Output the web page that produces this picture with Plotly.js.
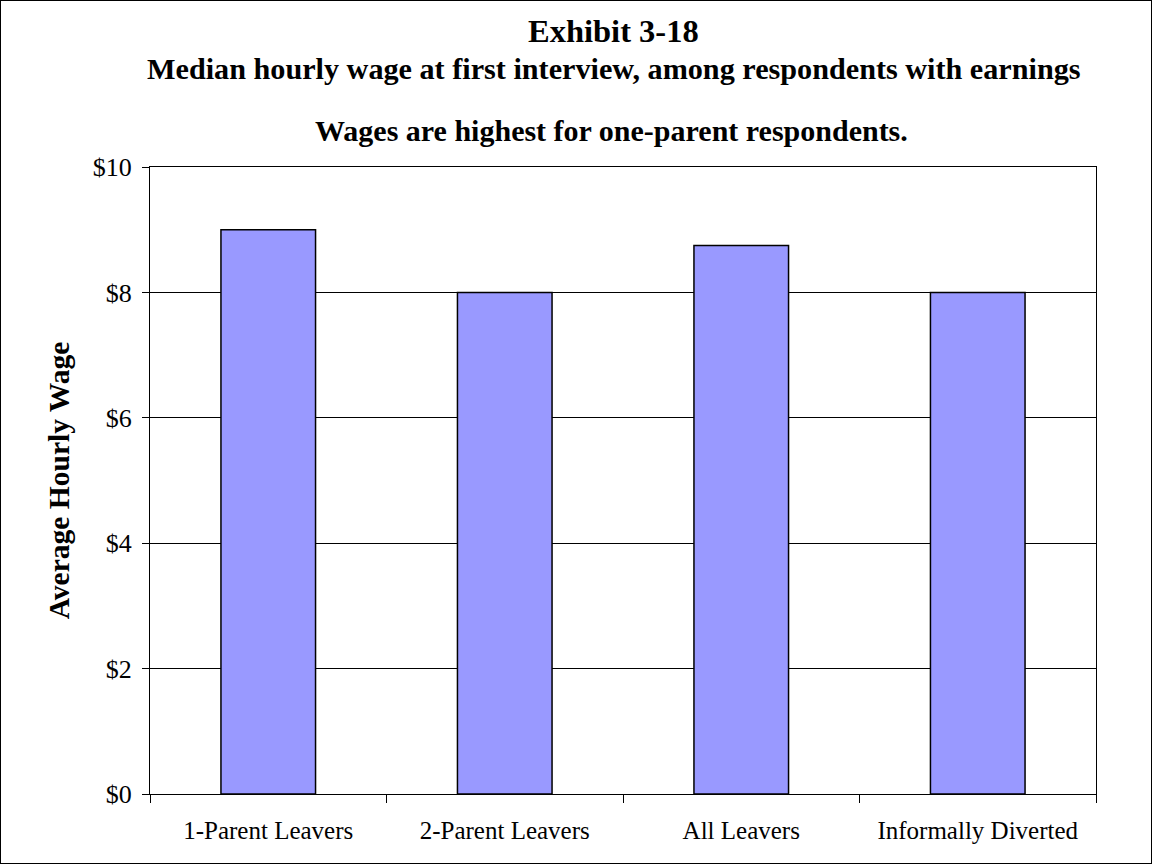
<!DOCTYPE html>
<html>
<head>
<meta charset="utf-8">
<script src="https://cdn.plot.ly/plotly-3.0.1.min.js"></script>
<style>
html,body{margin:0;padding:0;background:#fff;}
#chart{width:1152px;height:864px;box-sizing:border-box;border:1px solid #000;}
</style>
</head>
<body>
<div id="chart"></div>
<script>
const categories = ["1-Parent Leavers", "2-Parent Leavers", "All Leavers", "Informally Diverted"];
const wages = [9.0, 8.0, 8.75, 8.0];
const yTickVals = [0, 2, 4, 6, 8, 10];
const yTickText = ["$0", "$2", "$4", "$6", "$8", "$10"];
const titleLines = [
  "Exhibit 3-18",
  "Median hourly wage at first interview, among respondents with earnings",
  "Wages are highest for one-parent respondents."
];
const yTitle = "Average Hourly Wage";

const serif = "Liberation Serif, Times New Roman, serif";

const trace = {
  type: "bar",
  x: categories,
  y: wages,
  marker: {color: "#9999FF", line: {color: "#000000", width: 1.5}},
  hoverinfo: "x+y"
};

const layout = {
  width: 1150,
  height: 862,
  margin: {l: 149, r: 55, t: 166, b: 69},
  paper_bgcolor: "#ffffff",
  plot_bgcolor: "#ffffff",
  showlegend: false,
  bargap: 0.6,
  font: {family: serif, color: "#000000"},
  xaxis: {
    type: "category",
    showgrid: false,
    showline: true,
    linecolor: "#000000",
    linewidth: 1,
    mirror: true,
    ticks: "outside",
    tickson: "boundaries",
    ticklen: 8,
    tickcolor: "#000000",
    ticklabelstandoff: 14,
    tickfont: {family: serif, size: 25, color: "#000000"},
    zeroline: false
  },
  yaxis: {
    range: [0, 10],
    tickvals: yTickVals,
    ticktext: yTickText,
    showgrid: true,
    gridcolor: "#000000",
    gridwidth: 1,
    showline: true,
    linecolor: "#000000",
    linewidth: 1,
    mirror: true,
    ticks: "outside",
    ticklen: 7,
    tickcolor: "#000000",
    ticklabelstandoff: 5,
    tickfont: {family: serif, size: 26, color: "#000000"},
    zeroline: false,
    title: {text: "<b>" + yTitle + "</b>", font: {family: serif, size: 29.5, color: "#000000"}, standoff: 14}
  },
  annotations: [
    {text: "<b>" + titleLines[0] + "</b>", xref: "paper", yref: "paper", x: 0.49, y: 1.217, xanchor: "center", yanchor: "middle", showarrow: false, font: {family: serif, size: 32.5, color: "#000"}},
    {text: "<b>" + titleLines[1] + "</b>", xref: "paper", yref: "paper", x: 0.491, y: 1.157, xanchor: "center", yanchor: "middle", showarrow: false, font: {family: serif, size: 30.2, color: "#000"}},
    {text: "<b>" + titleLines[2] + "</b>", xref: "paper", yref: "paper", x: 0.488, y: 1.058, xanchor: "center", yanchor: "middle", showarrow: false, font: {family: serif, size: 30, color: "#000"}}
  ]
};

Plotly.newPlot("chart", [trace], layout, {displayModeBar: false});
</script>
</body>
</html>
